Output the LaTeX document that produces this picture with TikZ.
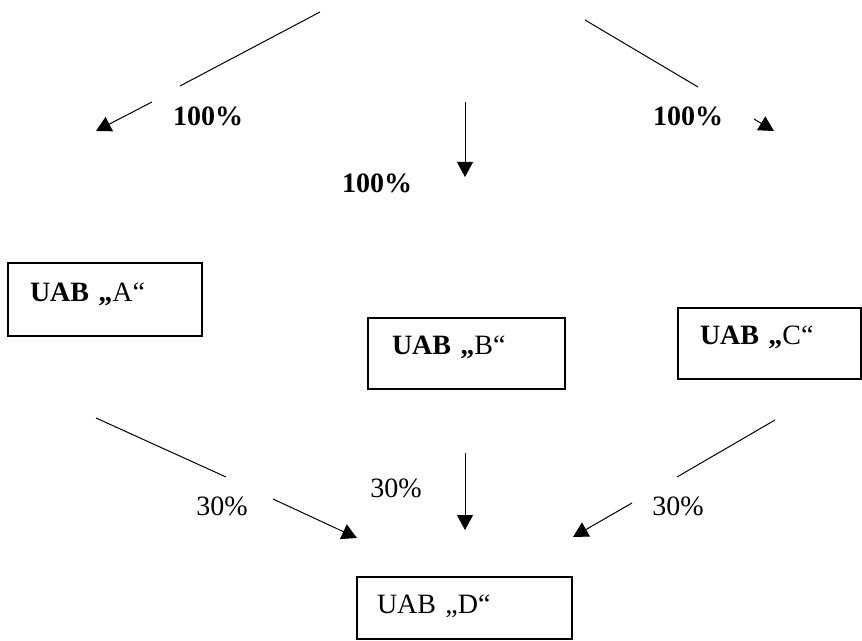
\documentclass[tikz,border=0pt]{standalone}
\usepackage{fontspec}
\setmainfont{Liberation Serif}
\usepackage{tikz}
\usetikzlibrary{arrows.meta}

\newcommand{\uabfont}{\fontsize{14}{17}\selectfont}

\begin{document}
\begin{tikzpicture}[x=0.5pt, y=-0.5pt, font=\uabfont,
    box/.style={draw, line width=1pt, anchor=north west, outer sep=0pt, inner ysep=0pt, align=left},
    share/.style={inner sep=0pt},
    plain line/.style={line width=0.5pt},
    tip line/.style={line width=0.5pt, -{Triangle[width=8pt,length=7.5pt]}}]
    \useasboundingbox (0,0) rectangle (862,641);
    % Place nodes
    \node [box, inner xsep=11pt, text width=75pt, text height=19.5pt, text depth=17pt] (A) at (8,263) {\textbf{UAB „}A“};
    \node [box, inner xsep=12pt, text width=74.5pt, text height=18.5pt, text depth=17pt] (B) at (368,318) {\textbf{UAB „}B“};
    \node [box, inner xsep=11pt, text width=69.5pt, text height=18.5pt, text depth=17pt] (C) at (678,308) {\textbf{UAB „}C“};
    \node [box, inner xsep=10pt, text width=87.5pt, text height=18pt, text depth=13pt] (D) at (357,577) {UAB „D“};
    \node [share, font=\uabfont\bfseries] (toA) at (208,116) {100\%};
    \node [share, font=\uabfont\bfseries] (toB) at (377,183) {100\%};
    \node [share, font=\uabfont\bfseries] (toC) at (688,116) {100\%};
    \node [share] (AtoD) at (222,506) {30\%};
    \node [share] (BtoD) at (396,488) {30\%};
    \node [share] (CtoD) at (678,506) {30\%};
    % Arrow ends
    \coordinate (a1) at (320,12);
    \coordinate (a2) at (180,86);
    \coordinate (a3) at (152,102);
    \coordinate (a4) at (96,131);
    \coordinate (b1) at (465,102);
    \coordinate (b2) at (465,177);
    \coordinate (c1) at (585,20);
    \coordinate (c2) at (698,87);
    \coordinate (c3) at (754,119);
    \coordinate (c4) at (774,131);
    \coordinate (d1) at (96,418);
    \coordinate (d2) at (226,477);
    \coordinate (d3) at (273,499);
    \coordinate (d4) at (357,538);
    \coordinate (e1) at (465,453);
    \coordinate (e2) at (465,530);
    \coordinate (f1) at (775,420);
    \coordinate (f2) at (677,477);
    \coordinate (f3) at (632,503);
    \coordinate (f4) at (573,537);
    % Arrows
    \path [draw, plain line] (a1) -- (a2);
    \path [draw, tip line] (a3) -- (a4);
    \path [draw, tip line] (b1) -- (b2);
    \path [draw, plain line] (c1) -- (c2);
    \path [draw, tip line] (c3) -- (c4);
    \path [draw, plain line] (d1) -- (d2);
    \path [draw, tip line] (d3) -- (d4);
    \path [draw, tip line] (e1) -- (e2);
    \path [draw, plain line] (f1) -- (f2);
    \path [draw, tip line] (f3) -- (f4);
\end{tikzpicture}
\end{document}
